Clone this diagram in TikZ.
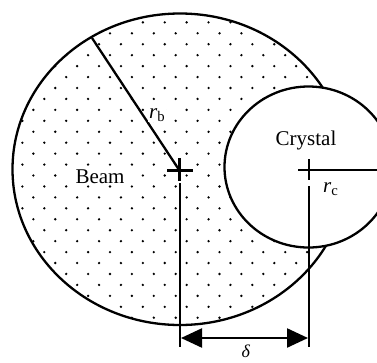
\documentclass[tikz,border=0pt]{standalone}
\usepackage{fontspec}
\setmainfont{Liberation Serif}
\usetikzlibrary{arrows.meta}
\begin{document}
\begin{tikzpicture}[x=1pt,y=-1pt,line width=2.3pt,
  lbl/.style={font=\fontsize{21}{25}\selectfont,inner sep=1pt},
  dimtip/.style={{Triangle[length=21pt,width=19pt]}-{Triangle[length=21pt,width=19pt]}}]
\useasboundingbox (0,0) rectangle (377,362);
% key points
\coordinate (beamc) at (180,169.25);
\coordinate (bc) at (179.5,170.5);
\coordinate (crc) at (308.5,167);
\coordinate (cc) at (309,170);
\coordinate (rbend) at (92,38);
% dotted beam
\begin{scope}
  \clip (beamc) ellipse [x radius=167.5, y radius=155.75];
  \foreach \n in {-13,...,17}{
    \pgfmathtruncatemacro\off{mod(\n+100,2)}
    \foreach \k in {-6,...,12}{
      \fill ({110+10.95*(2*\k+\off)},{142.7+10.94*\n}) circle[radius=1.3pt];
    }
  }
\end{scope}
\draw (beamc) ellipse [x radius=167.5, y radius=155.75];
% crystal
\filldraw[fill=white] (crc) ellipse [x radius=84, y radius=80.5];
% beam radius and cross
\draw (rbend) -- (bc);
\coordinate (bh1) at (167,170.5); \coordinate (bh2) at (193,170.5);
\coordinate (bv1) at (179.5,158); \coordinate (bv2) at (179.5,181);
\draw (bh1) -- (bh2);
\draw (bv1) -- (bv2);
% crystal cross and radius
\coordinate (ch1) at (298,170); \coordinate (ch2) at (380,170);
\coordinate (cv1) at (309,159); \coordinate (cv2) at (309,180);
\draw (ch1) -- (ch2);
\draw (cv1) -- (cv2);
% extension lines
\coordinate (be1) at (180,183); \coordinate (be2) at (180,347);
\coordinate (ce1) at (309,186); \coordinate (ce2) at (309,347);
\draw (be1) -- (be2);
\draw (ce1) -- (ce2);
% dimension arrow
\coordinate (da) at (181,338); \coordinate (db) at (308,338);
\draw[dimtip] (da) -- (db);
% labels
\node[lbl,fill=white,anchor=base] (beam) at (100,183) {Beam};
\node[lbl,anchor=base] (crystal) at (306,145) {Crystal};
\node[lbl,fill=white,anchor=base west] (rb) at (147,118) {\textit{r}\textsubscript{b}};
\node[lbl,anchor=base west] (rc) at (321,192) {\textit{r}\textsubscript{c}};
\node[lbl,font=\fontsize{18}{20}\selectfont,anchor=base,inner sep=0pt] (delta) at (246,357) {\textit{δ}};
\end{tikzpicture}
\end{document}
